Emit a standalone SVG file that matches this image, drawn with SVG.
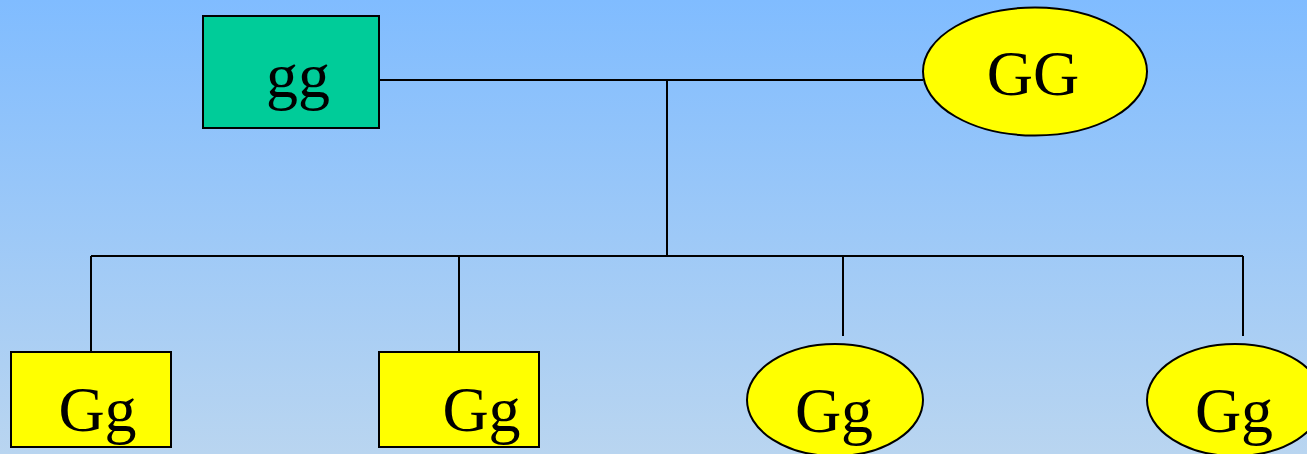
<svg xmlns="http://www.w3.org/2000/svg" width="1307" height="454" viewBox="0 0 1307 454">
<defs>
<linearGradient id="bg" x1="0" y1="0" x2="0" y2="1">
<stop offset="0" stop-color="#80BCFF"/>
<stop offset="1" stop-color="#B9D5F0"/>
</linearGradient>
<style>
.box{stroke:#000;stroke-width:2}
.yel{fill:#FFFF00}
.grn{fill:#00CC99}
.lbl{font-family:"Liberation Serif","Times New Roman",serif;font-size:64px;fill:#000;text-anchor:middle}
.con{stroke:#000;stroke-width:2;fill:none}
</style>
</defs>
<rect x="0" y="0" width="1307" height="454" fill="url(#bg)"/>
<g id="connectors">
<line class="con" x1="379" y1="80" x2="923" y2="80"/>
<line class="con" x1="667" y1="80" x2="667" y2="256"/>
<line class="con" x1="91" y1="256" x2="1243" y2="256"/>
<line class="con" x1="91" y1="256" x2="91" y2="352"/>
<line class="con" x1="459" y1="256" x2="459" y2="352"/>
<line class="con" x1="843" y1="256" x2="843" y2="336"/>
<line class="con" x1="1243" y1="256" x2="1243" y2="336"/>
</g>
<g id="node-gg">
<rect class="box grn" x="203" y="16" width="176" height="112"/>
<text class="lbl" x="298" y="97">gg</text>
</g>
<g id="node-GG">
<ellipse class="box yel" cx="1035" cy="71.5" rx="112" ry="64"/>
<text class="lbl" x="1033" y="95">GG</text>
</g>
<g id="node-Gg1">
<rect class="box yel" x="11" y="352" width="160" height="95"/>
<text class="lbl" x="97.5" y="431">Gg</text>
</g>
<g id="node-Gg2">
<rect class="box yel" x="379" y="352" width="160" height="95"/>
<text class="lbl" x="481.5" y="431">Gg</text>
</g>
<g id="node-Gg3">
<ellipse class="box yel" cx="835" cy="400" rx="88" ry="56"/>
<text class="lbl" x="834" y="432">Gg</text>
</g>
<g id="node-Gg4">
<ellipse class="box yel" cx="1235" cy="400" rx="88" ry="56"/>
<text class="lbl" x="1234" y="432">Gg</text>
</g>
</svg>
